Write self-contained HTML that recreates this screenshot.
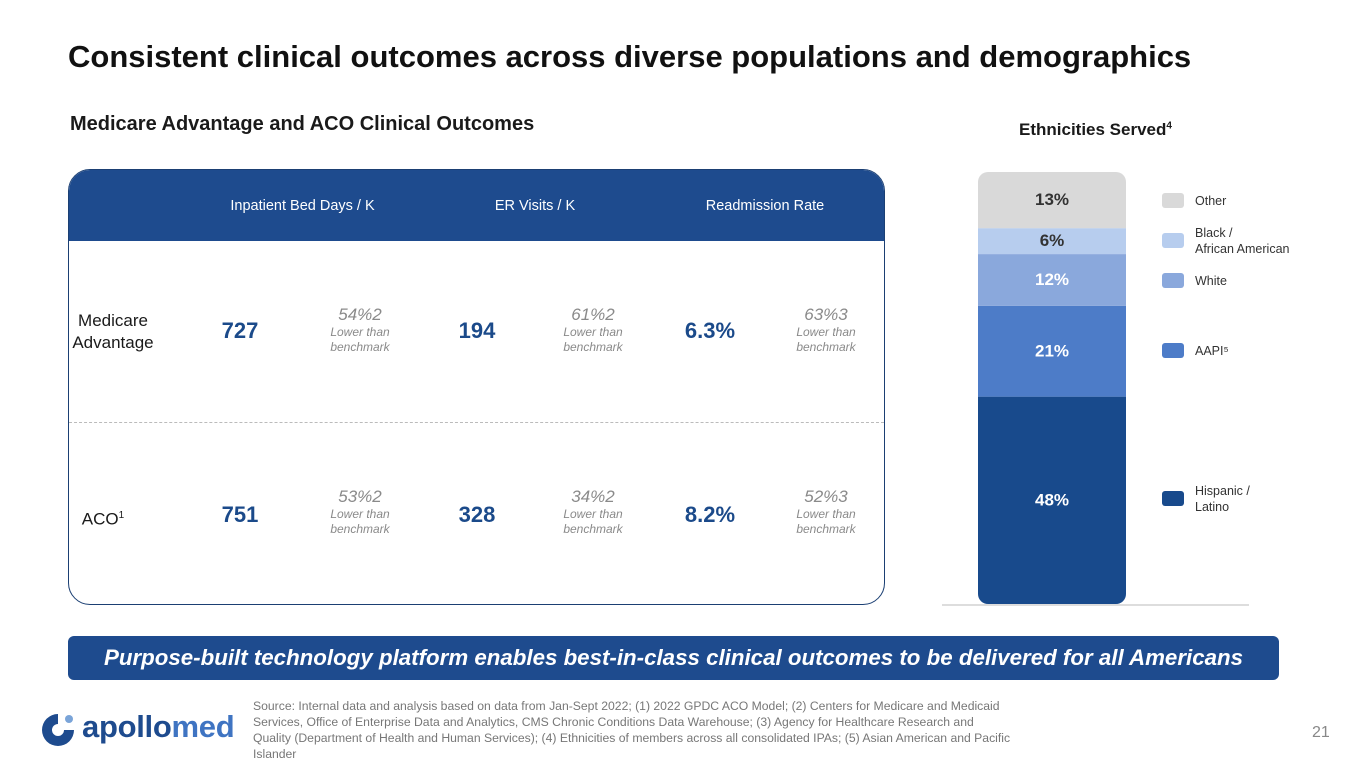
<!DOCTYPE html>
<html><head><meta charset="utf-8"><style>
body{margin:0;width:1365px;height:768px;background:#fff;font-family:"Liberation Sans",sans-serif;position:relative;overflow:hidden}
.a{position:absolute}
.c{text-align:center}
.hd{color:#fff;font-size:14.5px;top:198px}
.rl{color:#1a1a1a;font-size:17px;text-align:center;width:110px;line-height:22px}
.val{color:#1b4a8a;font-size:22px;font-weight:bold;width:90px;text-align:center}
.bm{color:#8a8a8a;font-style:italic;text-align:center;width:100px;font-size:12px;line-height:15px}
.bm b{font-weight:normal;font-size:17px;display:block;line-height:20px}
</style></head><body>
<div class="a" style="left:68px;top:39px;font-size:31px;font-weight:bold;color:#111;white-space:nowrap">Consistent clinical outcomes across diverse populations and demographics</div>
<div class="a" style="left:70px;top:113px;font-size:20px;font-weight:bold;color:#1a1a1a">Medicare Advantage and ACO Clinical Outcomes</div>
<div class="a" style="left:68px;top:169px;width:815px;height:434px;border:1.5px solid #1b3f73;border-radius:22px;overflow:hidden">
<div class="a" style="left:0;top:0;width:100%;height:71px;background:#1e4b8e"></div>
<div class="a" style="left:0;top:252px;width:100%;border-top:1.5px dashed #bbb"></div>
</div>
<div class="a hd c" style="left:200px;width:205px">Inpatient Bed Days / K</div>
<div class="a hd c" style="left:460px;width:150px">ER Visits / K</div>
<div class="a hd c" style="left:690px;width:150px">Readmission Rate</div>

<div class="a rl" style="left:58px;top:310px">Medicare Advantage</div>
<div class="a val" style="left:195px;top:318px">727</div>
<div class="a bm" style="left:310px;top:305px"><b>54%2</b>Lower than<br>benchmark</div>
<div class="a val" style="left:432px;top:318px">194</div>
<div class="a bm" style="left:543px;top:305px"><b>61%2</b>Lower than<br>benchmark</div>
<div class="a val" style="left:665px;top:318px">6.3%</div>
<div class="a bm" style="left:776px;top:305px"><b>63%3</b>Lower than<br>benchmark</div>

<div class="a rl" style="left:48px;top:505px">ACO<sup style="font-size:10px">1</sup></div>
<div class="a val" style="left:195px;top:502px">751</div>
<div class="a bm" style="left:310px;top:487px"><b>53%2</b>Lower than<br>benchmark</div>
<div class="a val" style="left:432px;top:502px">328</div>
<div class="a bm" style="left:543px;top:487px"><b>34%2</b>Lower than<br>benchmark</div>
<div class="a val" style="left:665px;top:502px">8.2%</div>
<div class="a bm" style="left:776px;top:487px"><b>52%3</b>Lower than<br>benchmark</div>

<div class="a" style="left:1019px;top:120px;font-size:17px;font-weight:bold;color:#1a1a1a">Ethnicities Served<sup style="font-size:10px">4</sup></div>
<svg class="a" id="chart" style="left:0;top:0" width="1365" height="768"></svg>

<div class="a c" style="left:68px;top:636px;width:1211px;height:44px;background:#1e4b8e;border-radius:6px;color:#fff;font-size:22.3px;font-weight:bold;font-style:italic;line-height:44px;white-space:nowrap">Purpose-built technology platform enables best-in-class clinical outcomes to be delivered for all Americans</div>

<div class="a" style="left:38px;top:711px;width:40px;height:38px">
<svg width="40" height="38"><path d="M20 3 A16 16 0 1 0 36 19 L26 19 A6 6 0 1 1 20 13 Z" fill="#1e4b8e"/><circle cx="31" cy="8" r="4" fill="#7aa4d8"/></svg></div>
<div class="a" style="left:82px;top:709px;font-size:31px;font-weight:bold;color:#1e4b8e;letter-spacing:-0.3px">apollo<span style="color:#3f74c2">med</span></div>
<div class="a" style="left:253px;top:698px;font-size:12.2px;line-height:16px;color:#777;white-space:nowrap">Source: Internal data and analysis based on data from Jan-Sept 2022; (1) 2022 GPDC ACO Model; (2) Centers for Medicare and Medicaid<br>Services, Office of Enterprise Data and Analytics, CMS Chronic Conditions Data Warehouse; (3) Agency for Healthcare Research and<br>Quality (Department of Health and Human Services); (4) Ethnicities of members across all consolidated IPAs; (5) Asian American and Pacific<br>Islander</div>
<div class="a" style="left:1312px;top:724px;font-size:16px;color:#888">21</div>

<script>
const categories=["Hispanic / Latino","AAPI","White","Black / African American","Other"];
const values=[48,21,12,6,13];
const labels=["48%","21%","12%","6%","13%"];
const colors=["#184a8c","#4d7cc8","#8aa8dc","#b7cdee","#d9d9d9"];
const textColors=["#fff","#fff","#fff","#333","#333"];
const legendY=[498,350,280,240,200];
const NS="http://www.w3.org/2000/svg";
const svg=document.getElementById("chart");
const x0=978,bw=148,yBase=604,yTop=172;
const total=values.reduce((a,b)=>a+b,0);
const y=v=>yBase-(v/total)*(yBase-yTop);
const clip=document.createElementNS(NS,"clipPath");clip.setAttribute("id","bc");
const cr=document.createElementNS(NS,"rect");
cr.setAttribute("x",x0);cr.setAttribute("y",yTop);cr.setAttribute("width",bw);cr.setAttribute("height",yBase-yTop);cr.setAttribute("rx",10);
clip.appendChild(cr);svg.appendChild(clip);
const axis=document.createElementNS(NS,"line");
axis.setAttribute("x1",942);axis.setAttribute("x2",1249);axis.setAttribute("y1",605);axis.setAttribute("y2",605);axis.setAttribute("stroke","#bbb");


svg.appendChild(axis);
let cum=0;
values.forEach((v,i)=>{
 const y1=y(cum),y2=y(cum+v);cum+=v;
 const r=document.createElementNS(NS,"rect");
 r.setAttribute("x",x0);r.setAttribute("y",y2);r.setAttribute("width",bw);r.setAttribute("height",y1-y2);
 r.setAttribute("fill",colors[i]);r.setAttribute("clip-path","url(#bc)");
 
 
 svg.appendChild(r);
 const t=document.createElementNS(NS,"text");
 t.setAttribute("x",x0+bw/2);t.setAttribute("y",(y1+y2)/2+5);t.setAttribute("text-anchor","middle");
 t.setAttribute("font-size","17");t.setAttribute("font-weight","bold");t.setAttribute("fill",textColors[i]);
 t.setAttribute("font-family","Liberation Sans, sans-serif");
 t.textContent=labels[i];
 
 
 svg.appendChild(t);
 const s=document.createElementNS(NS,"rect");
 s.setAttribute("x",1162);s.setAttribute("y",legendY[i]-7);s.setAttribute("width",22);s.setAttribute("height",15);s.setAttribute("rx",3);s.setAttribute("fill",colors[i]);
 
 
 svg.appendChild(s);
 const parts=categories[i]==="AAPI"?["AAPI⁵"]:categories[i].includes(" / ")?[categories[i].split(" / ")[0]+" /",categories[i].split(" / ")[1]]:[categories[i]];
 const lt=document.createElementNS(NS,"text");
 lt.setAttribute("font-size","12.5");lt.setAttribute("fill","#333");lt.setAttribute("font-family","Liberation Sans, sans-serif");
 const startY=legendY[i]+5-(parts.length-1)*8;
 parts.forEach((p,k)=>{const ts=document.createElementNS(NS,"tspan");ts.setAttribute("x",1195);ts.setAttribute("y",startY+k*16);ts.textContent=p;lt.appendChild(ts);});
 
 
 svg.appendChild(lt);
});
</script>
</body></html>
